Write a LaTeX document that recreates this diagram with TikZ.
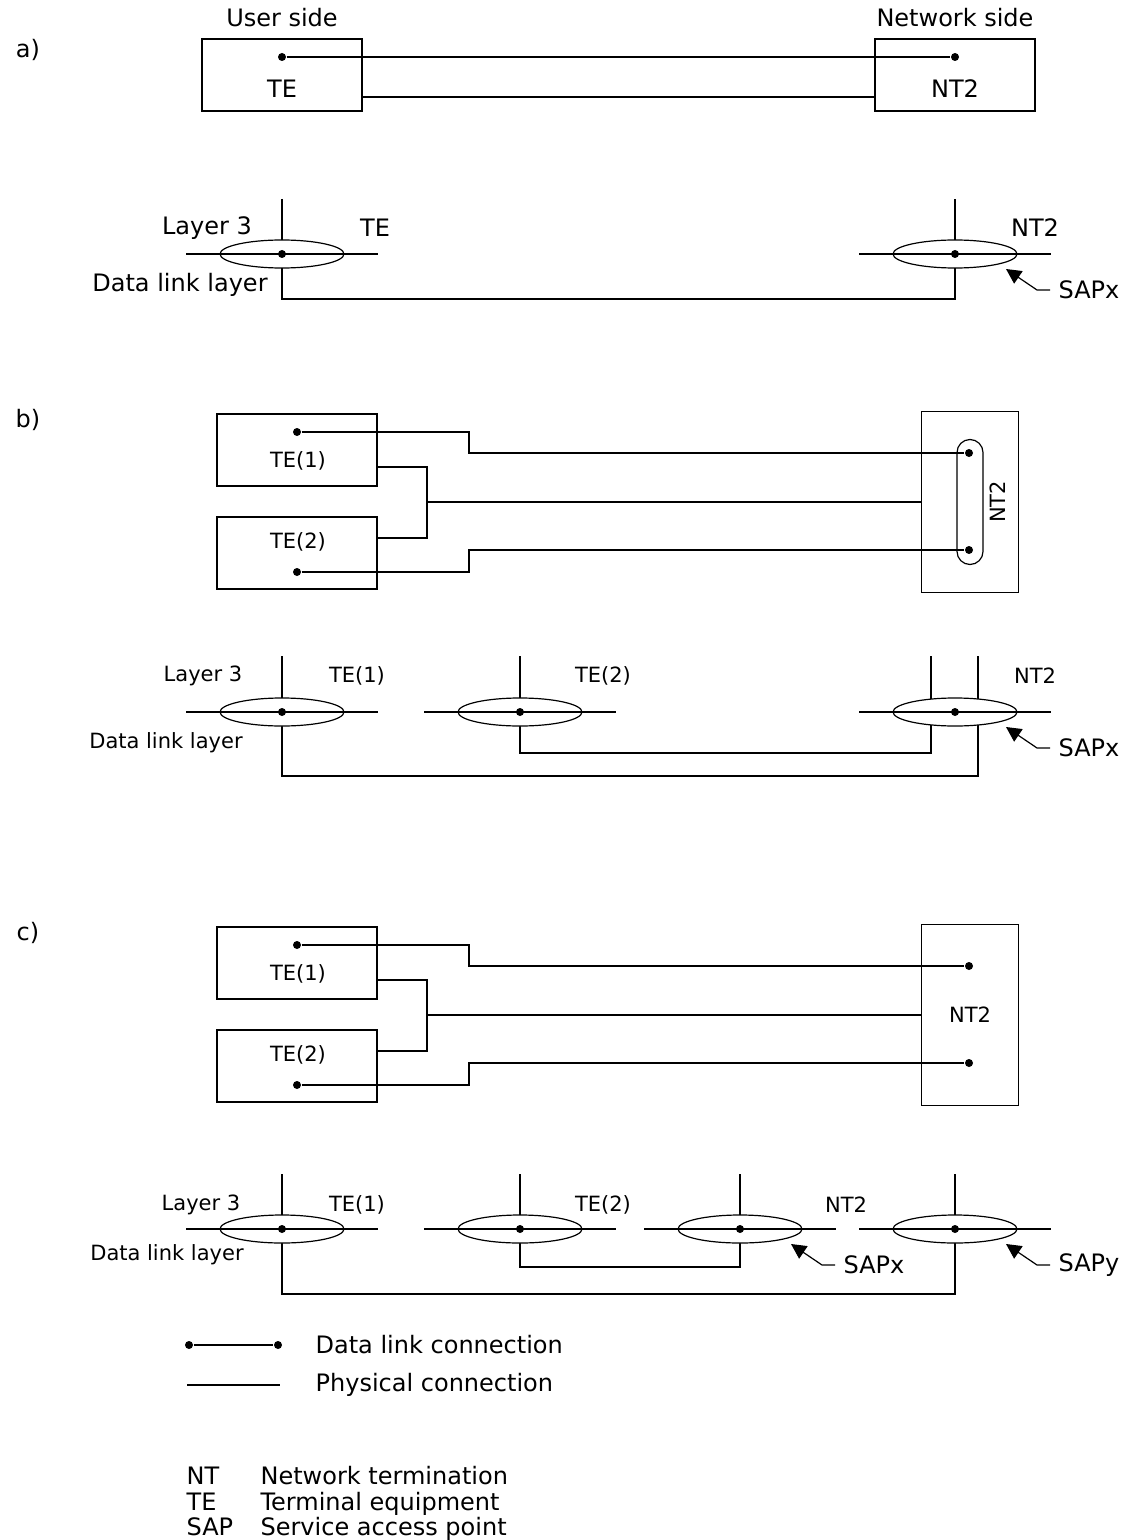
\documentclass[tikz,border=0pt]{standalone}
\usepackage{fontspec}
\setmainfont{DejaVu Sans}
\usetikzlibrary{shapes.geometric, arrows.meta, positioning, calc}

\tikzset{
  tebox/.style={draw, minimum width=80pt, minimum height=36pt, inner sep=0pt},
  ntbox/.style={draw, minimum width=48.5pt, minimum height=90.5pt, inner sep=0pt},
  sapring/.style={draw, ellipse, fill=white, minimum width=62pt, minimum height=14pt, inner sep=0pt},
  dlc/.style={circle, fill=black, minimum size=4pt, inner sep=0pt},
  big/.style={font=\fontsize{12}{13}\selectfont, inner sep=0pt},
  small/.style={font=\fontsize{10.5}{12}\selectfont, inner sep=0pt},
  pointer/.style={-{Triangle[length=7.5pt, width=7.5pt]}},
}
\newcommand{\sappointer}[3]{%
  \node[big, anchor=west, inner xsep=4pt] (#1) at ($(#2)+(95,36)$) {#3};
  \draw[pointer] (#1.west) -- ++(-13,0) -- ++(-31,-21);
}

\begin{document}
\begin{tikzpicture}[x=0.5pt, y=-0.5pt, line width=0.6pt]
  \useasboundingbox (0,0) rectangle (1128,1540);

  % === a) one TE and NT2 ===
  \node[big] (la) at (28,50) {a)};
  \node[tebox] (teA) at (282,75) {};
  \node[tebox] (ntA) at (955,75) {};
  \node[big] (userside) at (282,18) {User side};
  \node[big] (netside) at (955,18) {Network side};
  \node[big] (teAlbl) at (282,89) {TE};
  \node[big] (ntAlbl) at (955,89) {NT2};
  \node[dlc] (teAdot) at (282,57) {};
  \node[dlc] (ntAdot) at (955,57) {};
  \draw (teAdot) -- (ntAdot);
  \draw (teA.east |- 0,97) -- (ntA.west |- 0,97);

  % layer view a)
  \coordinate (aT) at (282,254);
  \coordinate (aN) at (955,254);
  \draw (aT) ++(0,-55) -- (aT) |- ($(aN)+(0,45)$) -- ++(0,-100);
  \node[big] (l3a) at (207,228) {Layer 3};
  \node[big] (teAtop) at (375,228) {TE};
  \node[big] (ntAtop) at (1035,228) {NT2};
  \node[big] (dlla) at (180,285) {Data link layer};

  % === b) two TE, one NT2 ===
  \node[big] (lb) at (28,420) {b)};
  \node[tebox] (te1B) at (297,450) {};
  \node[tebox] (te2B) at (297,553) {};
  \node[small] (te1Blbl) at (298,461) {TE(1)};
  \node[small] (te2Blbl) at (298,542) {TE(2)};
  \node[dlc] (te1Bdot) at (297,432) {};
  \node[dlc] (te2Bdot) at (297,572) {};
  \node[ntbox] (ntB) at (970,502) {};
  \node[draw, rounded corners=6.5pt, minimum width=13pt, minimum height=62.5pt, inner sep=0pt] (ntBpill) at (970,502) {};
  \node[small, rotate=90] (ntBlbl) at (998,502) {NT2};
  \node[dlc] (ntB1dot) at (969,453) {};
  \node[dlc] (ntB2dot) at (969,550) {};
  \draw (te1Bdot) -- ++(172,0) |- (ntB1dot);
  \draw (te2Bdot) -- ++(172,0) |- (ntB2dot);
  \draw (te1B.east |- 0,467) -| (427,538) -- (te2B.east |- 0,538);
  \draw (ntB.west) -- (ntB.west -| 427,0);

  % layer view b)
  \coordinate (b1) at (282,712);
  \coordinate (b2) at (520,712);
  \coordinate (bN) at (955,712);
  \draw (b1) ++(0,-56) -- (b1) |- ($(bN)+(23,64)$) -- ++(0,-120);
  \draw (b2) ++(0,-56) -- (b2) |- ($(bN)+(-24,41)$) -- ++(0,-97);
  \node[small] (l3b) at (203,676) {Layer 3};
  \node[small] (te1Btop) at (357,676) {TE(1)};
  \node[small] (te2Btop) at (603,676) {TE(2)};
  \node[small] (ntBtop) at (1035,676) {NT2};
  \node[small] (dllb) at (166,743) {Data link layer};

  % === c) two TE, NT2 with two SAPs ===
  \node[big] (lc) at (28,933) {c)};
  \node[tebox] (te1C) at (297,963) {};
  \node[tebox] (te2C) at (297,1066) {};
  \node[small] (te1Clbl) at (298,974) {TE(1)};
  \node[small] (te2Clbl) at (298,1055) {TE(2)};
  \node[dlc] (te1Cdot) at (297,945) {};
  \node[dlc] (te2Cdot) at (297,1085) {};
  \node[ntbox] (ntC) at (970,1015) {};
  \node[small] (ntClbl) at (970,1015) {NT2};
  \node[dlc] (ntC1dot) at (969,966) {};
  \node[dlc] (ntC2dot) at (969,1063) {};
  \draw (te1Cdot) -- ++(172,0) |- (ntC1dot);
  \draw (te2Cdot) -- ++(172,0) |- (ntC2dot);
  \draw (te1C.east |- 0,980) -| (427,1051) -- (te2C.east |- 0,1051);
  \draw (ntC.west) -- (ntC.west -| 427,0);

  % layer view c)
  \coordinate (c1) at (282,1229);
  \coordinate (c2) at (520,1229);
  \coordinate (c3) at (740,1229);
  \coordinate (c4) at (955,1229);
  \draw (c1) ++(0,-55) -- (c1) |- ($(c4)+(0,65)$) -- ++(0,-120);
  \draw (c2) ++(0,-55) -- (c2) |- ($(c3)+(0,38)$) -- ++(0,-93);
  \node[small] (l3c) at (201,1205) {Layer 3};
  \node[small] (te1Ctop) at (357,1205) {TE(1)};
  \node[small] (te2Ctop) at (603,1205) {TE(2)};
  \node[small] (ntCtop) at (846,1205) {NT2};
  \node[small] (dllc) at (167,1255) {Data link layer};

  % SAP rings, layer axis and connection points
  \foreach \c in {aT,aN,b1,b2,bN,c1,c2,c3,c4} {
    \node[sapring] (\c-ring) at (\c) {};
    \draw ($(\c)+(-96,0)$) -- ($(\c)+(96,0)$);
    \node[dlc] (\c-dot) at (\c) {};
  }

  \sappointer{sapxA}{aN}{SAPx}
  \sappointer{sapxB}{bN}{SAPx}
  \sappointer{sapxC}{c3}{SAPx}
  \sappointer{sapyC}{c4}{SAPy}

  % === legend ===
  \node[dlc] (lgA) at (189,1345) {};
  \node[dlc] (lgB) at (278,1345) {};
  \draw (lgA) -- (lgB);
  \coordinate (lgC) at (187,1385);
  \coordinate (lgD) at (280,1385);
  \draw (lgC) -- (lgD);
  \node[big, anchor=west] (lgDlc) at (315,1345) {Data link connection};
  \node[big, anchor=west] (lgPhy) at (315,1385) {Physical connection};
  \node[big, anchor=north west] (abbr) at (186,1466) {%
    \renewcommand{\arraystretch}{0.92}%
    \begin{tabular}{@{}p{37pt}@{}l@{}}
      NT & Network termination\\
      TE & Terminal equipment\\
      SAP & Service access point
    \end{tabular}};
\end{tikzpicture}
\end{document}
